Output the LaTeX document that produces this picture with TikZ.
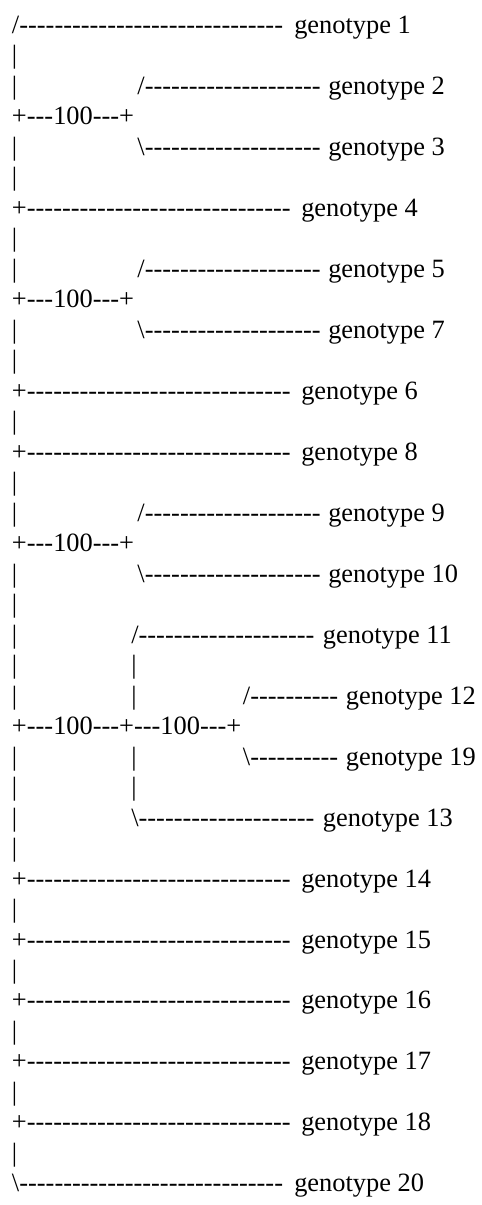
\documentclass[tikz,border=0pt]{standalone}
\font\gtf="Liberation Serif" at 26.4pt
\newcommand\seg[2]{\makebox[#1pt][l]{#2}}
\newcommand\bs{\char92\relax}
\newcommand\dthirty{------------------------------}
\newcommand\dtwenty{--------------------}
\newcommand\dten{----------}
\tikzset{ln/.style={anchor=base west, inner sep=0pt, outer sep=0pt, font=\gtf, text=black}}
\begin{document}
\begin{tikzpicture}[x=1pt,y=-1pt]
\useasboundingbox (0,0) rectangle (482,1205);
\fill[white] (0,0) rectangle (482,1205);
\node[ln] (l1)  at (12,{33.3+30.49*0})  {\seg{282.3}{/\dthirty}genotype 1};
\node[ln] (l2)  at (12,{33.3+30.49*1})  {|};
\node[ln] (l3)  at (12,{33.3+30.49*2})  {\seg{125.5}{|}\seg{190.8}{/\dtwenty}genotype 2};
\node[ln] (l4)  at (12,{33.3+30.49*3})  {+---100---+};
\node[ln] (l5)  at (12,{33.3+30.49*4})  {\seg{125.5}{|}\seg{190.8}{\bs\dtwenty}genotype 3};
\node[ln] (l6)  at (12,{33.3+30.49*5})  {|};
\node[ln] (l7)  at (12,{33.3+30.49*6})  {\seg{289.3}{+\dthirty}genotype 4};
\node[ln] (l8)  at (12,{33.3+30.49*7})  {|};
\node[ln] (l9)  at (12,{33.3+30.49*8})  {\seg{125.5}{|}\seg{190.8}{/\dtwenty}genotype 5};
\node[ln] (l10) at (12,{33.3+30.49*9})  {+---100---+};
\node[ln] (l11) at (12,{33.3+30.49*10}) {\seg{125.5}{|}\seg{190.8}{\bs\dtwenty}genotype 7};
\node[ln] (l12) at (12,{33.3+30.49*11}) {|};
\node[ln] (l13) at (12,{33.3+30.49*12}) {\seg{289.3}{+\dthirty}genotype 6};
\node[ln] (l14) at (12,{33.3+30.49*13}) {|};
\node[ln] (l15) at (12,{33.3+30.49*14}) {\seg{289.3}{+\dthirty}genotype 8};
\node[ln] (l16) at (12,{33.3+30.49*15}) {|};
\node[ln] (l17) at (12,{33.3+30.49*16}) {\seg{125.5}{|}\seg{190.8}{/\dtwenty}genotype 9};
\node[ln] (l18) at (12,{33.3+30.49*17}) {+---100---+};
\node[ln] (l19) at (12,{33.3+30.49*18}) {\seg{125.5}{|}\seg{190.8}{\bs\dtwenty}genotype 10};
\node[ln] (l20) at (12,{33.3+30.49*19}) {|};
\node[ln] (l21) at (12,{33.3+30.49*20}) {\seg{119.3}{|}\seg{191.7}{/\dtwenty}genotype 11};
\node[ln] (l22) at (12,{33.3+30.49*21}) {\seg{119.3}{|}|};
\node[ln] (l23) at (12,{33.3+30.49*22}) {\seg{119.3}{|}\seg{111.7}{|}\seg{103}{/\dten}genotype 12};
\node[ln] (l24) at (12,{33.3+30.49*23}) {+---100---+---100---+};
\node[ln] (l25) at (12,{33.3+30.49*24}) {\seg{119.3}{|}\seg{111.7}{|}\seg{103}{\bs\dten}genotype 19};
\node[ln] (l26) at (12,{33.3+30.49*25}) {\seg{119.3}{|}|};
\node[ln] (l27) at (12,{33.3+30.49*26}) {\seg{119.3}{|}\seg{191.7}{\bs\dtwenty}genotype 13};
\node[ln] (l28) at (12,{33.3+30.49*27}) {|};
\node[ln] (l29) at (12,{33.3+30.49*28}) {\seg{289.3}{+\dthirty}genotype 14};
\node[ln] (l30) at (12,{33.3+30.49*29}) {|};
\node[ln] (l31) at (12,{33.3+30.49*30}) {\seg{289.3}{+\dthirty}genotype 15};
\node[ln] (l32) at (12,{33.3+30.49*31}) {|};
\node[ln] (l33) at (12,{33.3+30.49*32}) {\seg{289.3}{+\dthirty}genotype 16};
\node[ln] (l34) at (12,{33.3+30.49*33}) {|};
\node[ln] (l35) at (12,{33.3+30.49*34}) {\seg{289.3}{+\dthirty}genotype 17};
\node[ln] (l36) at (12,{33.3+30.49*35}) {|};
\node[ln] (l37) at (12,{33.3+30.49*36}) {\seg{289.3}{+\dthirty}genotype 18};
\node[ln] (l38) at (12,{33.3+30.49*37}) {|};
\node[ln] (l39) at (12,{33.3+30.49*38}) {\seg{282.3}{\bs\dthirty}genotype 20};
\end{tikzpicture}
\end{document}
